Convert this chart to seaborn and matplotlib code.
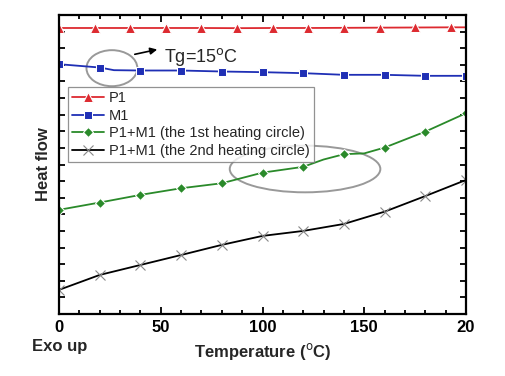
import numpy as np
import matplotlib
matplotlib.use('Agg')
import matplotlib.pyplot as plt
from matplotlib.patches import Ellipse
from matplotlib.ticker import MultipleLocator
import seaborn as sns

# Data (heat flow in arbitrary units, y axis 0..18)
temp_p1 = [0, 17.5, 35, 52.5, 70, 87.5, 105, 122.5, 140, 157.5, 175, 192.5, 200]
flow_p1 = [17.22, 17.22, 17.22, 17.22, 17.22, 17.21, 17.22, 17.22, 17.23, 17.24, 17.25, 17.26, 17.26]

temp_m1 = [0, 20, 27, 40, 60, 80, 100, 120, 140, 160, 180, 200]
flow_m1 = [15.04, 14.84, 14.68, 14.66, 14.66, 14.60, 14.56, 14.50, 14.40, 14.40, 14.34, 14.34]

temp_h1 = [0, 20, 40, 60, 80, 100, 120, 130, 140, 150, 160, 180, 200]
flow_h1 = [6.27, 6.71, 7.17, 7.57, 7.87, 8.51, 8.86, 9.30, 9.62, 9.67, 10.02, 10.98, 12.09]

temp_h2 = [0, 20, 40, 60, 80, 100, 120, 140, 160, 180, 200]
flow_h2 = [1.45, 2.35, 2.95, 3.55, 4.16, 4.70, 5.00, 5.42, 6.16, 7.10, 8.07]

labels = ["P1", "M1", "P1+M1 (the 1st heating circle)", "P1+M1 (the 2nd heating circle)"]
x_ticks = [0, 50, 100, 150, 200]
x_ticklabels = ["0", "50", "100", "150", "20"]

sns.set_style("ticks")
plt.rcParams['font.family'] = ['Liberation Sans', 'DejaVu Sans']

fig = plt.figure(figsize=(5.06, 3.76), dpi=100)
ax = fig.add_axes([0.1166, 0.165, 0.8044, 0.795])

sns.lineplot(x=temp_p1, y=flow_p1, ax=ax, color='#dd2a30', marker='^', markersize=7,
             markevery=list(range(12)), lw=1.3, label=labels[0])
sns.lineplot(x=temp_m1, y=flow_m1, ax=ax, color='#1f2fb5', marker='s', markersize=5.5,
             markevery=[0, 1, 3, 4, 5, 6, 7, 8, 9, 10, 11], lw=1.3, label=labels[1])
sns.lineplot(x=temp_h1, y=flow_h1, ax=ax, color='#2a8a2a', marker='D', markersize=5.5,
             markevery=[0, 1, 2, 3, 4, 5, 6, 8, 10, 11, 12], lw=1.3, label=labels[2])
sns.lineplot(x=temp_h2, y=flow_h2, ax=ax, color='black', marker='x', markersize=6.5,
             markeredgecolor='#888888', markeredgewidth=0.8, lw=1.3, label=labels[3])

# Circles and the Tg annotation
ax.add_patch(Ellipse((26, 14.8), 25, 2.17, fill=False, ec='#999999', lw=1.4))
ax.add_patch(Ellipse((120.9, 8.73), 74, 2.81, fill=False, ec='#999999', lw=1.4))
ax.annotate("", xy=(49.6, 15.96), xytext=(35.9, 15.6),
            arrowprops=dict(arrowstyle='-|>', color='black', lw=1.2, mutation_scale=10))
ax.text(51.5, 15.5, "Tg=15$^{\\rm o}$C", fontsize=13, va='center', ha='left')

ax.set_xlim(0, 200)
ax.set_ylim(0, 18)
ax.set_xticks(x_ticks)
ax.set_xticklabels(x_ticklabels, fontweight='bold', fontsize=12)
ax.xaxis.set_minor_locator(MultipleLocator(10))
ax.yaxis.set_major_locator(MultipleLocator(1))
ax.set_yticklabels([])
ax.tick_params(which='both', direction='in', top=True, right=True, width=1.3, colors='black')
ax.tick_params(which='major', length=5, pad=4)
ax.tick_params(which='minor', length=3)
ax.tick_params(axis='y', which='major', length=4)
for s in ax.spines.values():
    s.set_linewidth(1.6)
    s.set_color('black')
    s.set_visible(True)

ax.set_xlabel("Temperature ($^{\\rm o}$C)", fontweight='bold', fontsize=12, labelpad=5)
ax.set_ylabel("Heat flow", fontweight='bold', fontsize=12, labelpad=2)
fig.text(32 / 506, 1 - 346 / 376, "Exo up", fontweight='bold', fontsize=12, va='center', ha='left')

leg = ax.legend(loc='upper left', bbox_to_anchor=(0.022, 0.76), fontsize=10.5, frameon=True,
                fancybox=False, edgecolor='#777777', handlelength=2.2, borderpad=0.3,
                labelspacing=0.25, handletextpad=0.3, borderaxespad=0)
leg.get_frame().set_linewidth(0.9)

fig.savefig("out.png", dpi=100)
